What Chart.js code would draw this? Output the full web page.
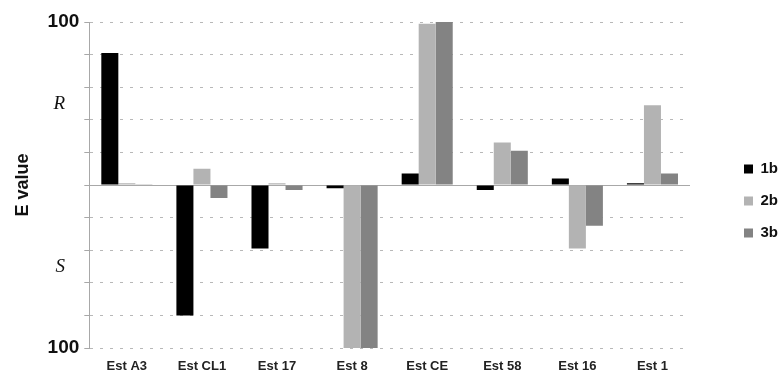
<!DOCTYPE html>
<html>
<head>
<meta charset="utf-8">
<script src="https://cdn.jsdelivr.net/npm/chart.js@4/dist/chart.umd.min.js"></script>
<style>
  html, body { margin: 0; padding: 0; background: #fff; }
  #wrap { width: 782px; height: 377px; }
</style>
</head>
<body>
<div id="wrap"><canvas id="eChart"></canvas></div>
<script>
const categories = ["Est A3", "Est CL1", "Est 17", "Est 8", "Est CE", "Est 58", "Est 16", "Est 1"];
const series1b = [81, -80, -39, -2, 7, -3, 4, 1];
const series2b = [1, 10, 1, -100, 99, 26, -39, 49];
const series3b = [0.5, -8, -3, -100, 100, 21, -25, 7];
const gridTicks = [-100, -80, -60, -40, -20, 0, 20, 40, 60, 80, 100];
const labelTicks = [-100, -50, 50, 100];
const labelText = { "-100": "100", "-50": "S", "50": "R", "100": "100" };

const sansBold = { family: "Liberation Sans, Arial", size: 19, weight: "bold" };
const serifItalic = { family: "Liberation Serif, Times New Roman", size: 19, style: "italic" };

const ctx = document.getElementById("eChart").getContext("2d");
const eChart = new Chart(ctx, {
  type: "bar",
  data: {
    labels: categories,
    datasets: [
      { label: "1b", data: series1b, backgroundColor: "#000000" },
      { label: "2b", data: series2b, backgroundColor: "#b3b3b3" },
      { label: "3b", data: series3b, backgroundColor: "#838383" }
    ]
  },
  options: {
    responsive: true,
    maintainAspectRatio: false,
    animation: false,
    categoryPercentage: 0.68,
    barPercentage: 1,
    layout: { padding: { left: 10, right: 0, top: 22, bottom: 3 } },
    plugins: {
      tooltip: { enabled: false },
      legend: {
        position: "right",
        maxWidth: 55,
        title: { display: true, text: " ", padding: 0, font: { size: 6, lineHeight: 1 } },
        labels: {
          boxWidth: 9,
          boxHeight: 9,
          padding: 17,
          color: "#111",
          font: { family: "Liberation Sans, Arial", size: 15, weight: "bold" }
        }
      }
    },
    scales: {
      x: {
        grid: { display: false, drawTicks: false },
        border: { display: false },
        afterFit: scale => { scale.height = 26; },
        ticks: {
          color: "#222",
          padding: 11,
          maxRotation: 0,
          minRotation: 0,
          autoSkip: false,
          font: { family: "Liberation Sans, Arial", size: 13, weight: "bold" }
        }
      },
      y: {
        min: -100,
        max: 100,
        afterBuildTicks: scale => { scale.ticks = gridTicks.map(v => ({ value: v })); },
        grid: {
          color: c => (c.tick && c.tick.value === 0) ? "#a8a8a8" : "#b8b8b8",
          tickColor: "#a8a8a8",
          tickLength: 5,
          tickBorderDash: []
        },
        border: {
          color: "#a8a8a8",
          width: 1,
          dash: c => (c.tick && c.tick.value === 0) ? [] : [3, 7]
        },
        ticks: { display: false }
      },
      yLabels: {
        axis: "y",
        position: "left",
        weight: 1,
        min: -100,
        max: 100,
        afterBuildTicks: scale => { scale.ticks = labelTicks.map(v => ({ value: v })); },
        grid: { display: false, drawTicks: false },
        border: { display: false },
        title: {
          display: true,
          text: "E value",
          color: "#111",
          padding: { top: 2, bottom: 9 },
          font: { family: "Liberation Sans, Arial", size: 18, weight: "bold" }
        },
        ticks: {
          padding: 5,
          color: "#111",
          callback: v => Math.abs(v) === 50 ? labelText[v] + "   " : labelText[v],
          font: c => (c.tick && Math.abs(c.tick.value) === 50) ? serifItalic : sansBold
        }
      },
      spacer: {
        axis: "y",
        position: "right",
        display: true,
        grid: { display: false, drawTicks: false },
        border: { display: false },
        ticks: { display: false },
        afterFit: scale => { scale.width = 37; }
      }
    }
  }
});
</script>
</body>
</html>
